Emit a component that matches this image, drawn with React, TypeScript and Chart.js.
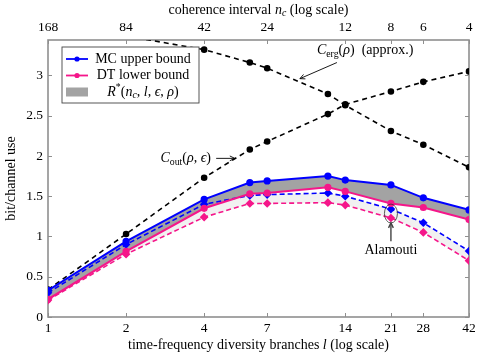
import React, { useEffect, useRef } from "react";
import { Chart, registerables } from "chart.js";
Chart.register(...registerables);

// ---- data ----
const lValues = [1, 2, 4, 6, 7, 12, 14, 21, 28, 42];
const mcUpper = [0.33, 0.94, 1.46, 1.67, 1.69, 1.75, 1.7, 1.64, 1.48, 1.33];
const dtLower = [0.22, 0.815, 1.35, 1.53, 1.54, 1.61, 1.56, 1.41, 1.36, 1.21];
const mcAlamouti = [0.3, 0.9, 1.4, 1.51, 1.52, 1.54, 1.5, 1.34, 1.17, 0.82];
const dtAlamouti = [0.21, 0.78, 1.24, 1.41, 1.41, 1.42, 1.39, 1.23, 1.05, 0.7];
const cOut = [0.34, 1.03, 1.73, 2.08, 2.18, 2.52, 2.64, 2.8, 2.92, 3.05];
const cErg = [3.62, 3.49, 3.32, 3.16, 3.09, 2.77, 2.63, 2.31, 2.14, 1.86];

const xTicks = [1, 2, 4, 7, 14, 21, 28, 42];
const topTickLabels = ["168", "84", "42", "24", "12", "8", "6", "4"];
const yTicks = [0, 0.5, 1, 1.5, 2, 2.5, 3];
const Y_MAX = 3.44;

// annotation anchors (data space)
const cergLabelAt = [16.7, 3.31];
const cergArrow = [13.0, 3.16, 9.36, 2.96];
const coutLabelAt = [4.25, 1.97];
const coutArrow = [4.45, 1.97, 5.25, 1.97];
const alamoutiL = 21;
const alamoutiLabelY = 0.83;

const FONT = '"Liberation Serif", "Times New Roman", serif';
const BLUE = "#0000ff";
const PINK = "#f5168a";

type Seg = { t: string; it?: boolean; sub?: boolean; sup?: boolean };

function segFont(s: Seg, size: number) {
  const sz = s.sub || s.sup ? size * 0.7 : size;
  return `${s.it ? "italic " : ""}${sz}px ${FONT}`;
}
function richWidth(ctx: CanvasRenderingContext2D, segs: Seg[], size: number) {
  let w = 0;
  for (const s of segs) {
    ctx.font = segFont(s, size);
    w += ctx.measureText(s.t).width;
  }
  return w;
}
function drawRich(
  ctx: CanvasRenderingContext2D,
  segs: Seg[],
  x: number,
  y: number,
  size: number,
  align: "left" | "center" | "right"
) {
  const w = richWidth(ctx, segs, size);
  let cx = align === "left" ? x : align === "center" ? x - w / 2 : x - w;
  ctx.textAlign = "left";
  ctx.textBaseline = "middle";
  ctx.fillStyle = "#000";
  for (const s of segs) {
    ctx.font = segFont(s, size);
    const dy = s.sub ? size * 0.28 : s.sup ? -size * 0.3 : 0;
    ctx.fillText(s.t, cx, y + dy);
    cx += ctx.measureText(s.t).width;
  }
}
function arrow(
  ctx: CanvasRenderingContext2D,
  x1: number,
  y1: number,
  x2: number,
  y2: number,
  color: string,
  w: number
) {
  ctx.save();
  ctx.strokeStyle = color;
  ctx.lineWidth = w;
  ctx.setLineDash([]);
  ctx.beginPath();
  ctx.moveTo(x1, y1);
  ctx.lineTo(x2, y2);
  ctx.stroke();
  const a = Math.atan2(y2 - y1, x2 - x1);
  const h = 5.5;
  ctx.beginPath();
  ctx.moveTo(x2 - h * Math.cos(a - 0.45), y2 - h * Math.sin(a - 0.45));
  ctx.lineTo(x2, y2);
  ctx.lineTo(x2 - h * Math.cos(a + 0.45), y2 - h * Math.sin(a + 0.45));
  ctx.stroke();
  ctx.restore();
}

const decor = {
  id: "decor",
  beforeDatasetsDraw(chart: any) {
    const { ctx, chartArea: ca, scales } = chart;
    const x = scales.x;
    const y = scales.y;
    ctx.save();
    ctx.strokeStyle = "#8f8f8f";
    ctx.lineWidth = 1;
    ctx.beginPath();
    for (const v of xTicks) {
      const px = Math.round(x.getPixelForValue(v)) + 0.5;
      ctx.moveTo(px, ca.bottom);
      ctx.lineTo(px, ca.bottom - 4);
      ctx.moveTo(px, ca.top);
      ctx.lineTo(px, ca.top + 4);
    }
    for (const v of yTicks) {
      const py = Math.round(y.getPixelForValue(v)) + 0.5;
      ctx.moveTo(ca.left, py);
      ctx.lineTo(ca.left + 4, py);
      ctx.moveTo(ca.right, py);
      ctx.lineTo(ca.right - 4, py);
    }
    ctx.stroke();
    ctx.lineWidth = 1.6;
    ctx.strokeStyle = "#8f8f8f";
    ctx.strokeRect(ca.left, ca.top, ca.right - ca.left, ca.bottom - ca.top);
    ctx.restore();
  },
  afterDatasetsDraw(chart: any) {
    const { ctx, chartArea: ca, scales } = chart;
    const X = (v: number) => scales.x.getPixelForValue(v);
    const Y = (v: number) => scales.y.getPixelForValue(v);
    ctx.save();
    const fs = 14;
    // axis titles
    const midX = (ca.left + ca.right) / 2;
    drawRich(
      ctx,
      [{ t: "coherence interval " }, { t: "n", it: true }, { t: "c", it: true, sub: true }, { t: " (log scale)" }],
      midX,
      10,
      fs,
      "center"
    );
    drawRich(
      ctx,
      [{ t: "time-frequency diversity branches " }, { t: "l", it: true }, { t: " (log scale)" }],
      midX,
      345,
      fs,
      "center"
    );

    // C_erg annotation
    drawRich(
      ctx,
      [{ t: "C", it: true }, { t: "erg", sub: true }, { t: "(" }, { t: "ρ", it: true }, { t: ")  (approx.)" }],
      X(cergLabelAt[0]),
      Y(cergLabelAt[1]),
      fs,
      "center"
    );
    arrow(ctx, X(cergArrow[0]), Y(cergArrow[1]), X(cergArrow[2]), Y(cergArrow[3]), "#000", 0.9);

    // C_out annotation
    drawRich(
      ctx,
      [{ t: "C", it: true }, { t: "out", sub: true }, { t: "(" }, { t: "ρ", it: true }, { t: ", " }, { t: "ϵ", it: true }, { t: ")" }],
      X(coutLabelAt[0]),
      Y(coutLabelAt[1]),
      fs,
      "right"
    );
    arrow(ctx, X(coutArrow[0]), Y(coutArrow[1]), X(coutArrow[2]), Y(coutArrow[3]), "#000", 0.9);

    // Alamouti annotation
    const ia = lValues.indexOf(alamoutiL);
    const ax = X(alamoutiL);
    const yTop = Y(mcAlamouti[ia]);
    const yBot = Y(dtAlamouti[ia]);
    const cy = (yTop + yBot) / 2;
    const ry = (yBot - yTop) / 2 + 5;
    ctx.strokeStyle = "#333";
    ctx.lineWidth = 0.8;
    ctx.beginPath();
    ctx.ellipse(ax, cy, 6.5, ry, 0, 0, Math.PI * 2);
    ctx.stroke();
    const ly = Y(alamoutiLabelY);
    arrow(ctx, ax, ly - 9, ax, cy + ry, "#444", 1.4);
    drawRich(ctx, [{ t: "Alamouti" }], ax, ly, fs, "center");

    // legend
    const x0 = ca.left + 14;
    const y0 = ca.top + 7;
    const w = 137;
    const h = 56;
    ctx.fillStyle = "#fff";
    ctx.fillRect(x0, y0, w, h);
    ctx.strokeStyle = "#444";
    ctx.lineWidth = 0.9;
    ctx.strokeRect(x0, y0, w, h);
    const rows = [y0 + 12, y0 + 28.5, y0 + 45];
    const cols = [BLUE, PINK];
    for (let i = 0; i < 2; i++) {
      ctx.strokeStyle = cols[i];
      ctx.lineWidth = 1.8;
      ctx.beginPath();
      ctx.moveTo(x0 + 4, rows[i]);
      ctx.lineTo(x0 + 26, rows[i]);
      ctx.stroke();
      ctx.fillStyle = cols[i];
      ctx.beginPath();
      ctx.arc(x0 + 15, rows[i], 2.6, 0, Math.PI * 2);
      ctx.fill();
    }
    ctx.fillStyle = "#a3a3a3";
    ctx.fillRect(x0 + 4, rows[2] - 4.5, 22, 9);
    drawRich(ctx, [{ t: "MC upper bound" }], x0 + 81, rows[0], fs, "center");
    drawRich(ctx, [{ t: "DT lower bound" }], x0 + 81, rows[1], fs, "center");
    drawRich(
      ctx,
      [
        { t: "R", it: true },
        { t: "*", sup: true },
        { t: "(" },
        { t: "n", it: true },
        { t: "c", it: true, sub: true },
        { t: ", " },
        { t: "l", it: true },
        { t: ", " },
        { t: "ϵ", it: true },
        { t: ", " },
        { t: "ρ", it: true },
        { t: ")" },
      ],
      x0 + 81,
      rows[2],
      fs,
      "center"
    );
    ctx.restore();
  },
};

export default function App() {
  const ref = useRef<HTMLCanvasElement>(null);
  useEffect(() => {
    const ctx = ref.current!.getContext("2d")!;
    const pts = (ys: number[]) => lValues.map((x, i) => ({ x, y: ys[i] }));
    const tickFont = { family: FONT, size: 13.5 };
    const chart = new Chart(ctx, {
      type: "line",
      data: {
        datasets: [
          {
            label: "MC upper bound",
            data: pts(mcUpper),
            borderColor: BLUE,
            backgroundColor: "#a3a3a3",
            pointBackgroundColor: BLUE,
            pointBorderColor: BLUE,
            borderWidth: 2,
            pointRadius: 2.6,
            pointStyle: "circle",
            fill: { target: 1 },
          },
          {
            label: "DT lower bound",
            data: pts(dtLower),
            borderColor: PINK,
            backgroundColor: PINK,
            pointBackgroundColor: PINK,
            pointBorderColor: PINK,
            borderWidth: 2,
            pointRadius: 2.6,
            pointStyle: "circle",
            fill: false,
          },
          {
            label: "MC (Alamouti)",
            data: pts(mcAlamouti),
            borderColor: BLUE,
            backgroundColor: "#f1f1f1",
            pointBackgroundColor: BLUE,
            pointBorderColor: BLUE,
            borderWidth: 1.6,
            borderDash: [5, 3],
            pointRadius: 3.2,
            pointStyle: "rectRot",
            fill: { target: 3 },
          },
          {
            label: "DT (Alamouti)",
            data: pts(dtAlamouti),
            borderColor: PINK,
            backgroundColor: PINK,
            pointBackgroundColor: PINK,
            pointBorderColor: PINK,
            borderWidth: 1.6,
            borderDash: [5, 3],
            pointRadius: 3.2,
            pointStyle: "rectRot",
            fill: false,
          },
          {
            label: "C_out",
            data: pts(cOut),
            borderColor: "#000",
            backgroundColor: "#000",
            borderWidth: 1.6,
            borderDash: [5, 4],
            pointRadius: 2.5,
            fill: false,
          },
          {
            label: "C_erg",
            data: pts(cErg),
            borderColor: "#000",
            backgroundColor: "#000",
            borderWidth: 1.6,
            borderDash: [5, 4],
            pointRadius: 2.5,
            fill: false,
          },
        ],
      },
      options: {
        animation: false,
        responsive: true,
        maintainAspectRatio: false,
        layout: { padding: { left: 0, right: 11, top: 0, bottom: 0 } },
        plugins: {
          legend: { display: false },
          tooltip: { enabled: false },
          filler: { drawTime: "beforeDatasetsDraw" },
        },
        scales: {
          x: {
            type: "logarithmic",
            position: "bottom",
            min: 1,
            max: 42,
            grid: { display: false, drawTicks: false },
            border: { display: false },
            ticks: {
              font: tickFont,
              color: "#000",
              padding: 3,
              maxRotation: 0,
              autoSkip: false,
              callback: (v: any) => String(v),
            },
            afterBuildTicks: (s: any) => {
              s.ticks = xTicks.map((v) => ({ value: v }));
            },
            afterFit: (s: any) => {
              s.height = 40;
            },
          },
          x2: {
            type: "logarithmic",
            position: "top",
            min: 1,
            max: 42,
            grid: { display: false, drawTicks: false },
            border: { display: false },
            ticks: {
              font: tickFont,
              color: "#000",
              padding: 4,
              maxRotation: 0,
              autoSkip: false,
              callback: (_v: any, i: number) => topTickLabels[i],
            },
            afterBuildTicks: (s: any) => {
              s.ticks = xTicks.map((v) => ({ value: v }));
            },
            afterFit: (s: any) => {
              s.height = 40;
            },
          },
          y: {
            type: "linear",
            position: "left",
            min: 0,
            max: Y_MAX,
            grid: { display: false, drawTicks: false },
            border: { display: false },
            ticks: {
              font: tickFont,
              color: "#000",
              padding: 5,
              callback: (v: any) => String(v),
            },
            afterBuildTicks: (s: any) => {
              s.ticks = yTicks.map((v) => ({ value: v }));
            },
            title: {
              display: true,
              text: "bit/channel use",
              font: { family: FONT, size: 14 },
              color: "#000",
              padding: { top: 3, bottom: 0 },
            },
            afterFit: (s: any) => {
              s.width = 48;
            },
          },
        },
      },
      plugins: [decor],
    } as any);
    return () => chart.destroy();
  }, []);
  return (
    <div style={{ position: "fixed", left: 0, top: 0, width: 480, height: 357 }}>
      <canvas ref={ref} />
    </div>
  );
}
